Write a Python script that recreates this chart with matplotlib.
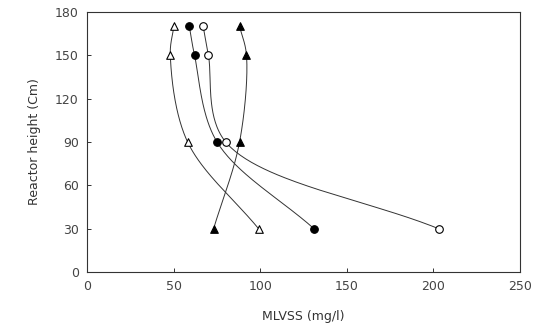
import numpy as np
import matplotlib.pyplot as plt

# reactor heights (cm)
height = [30, 90, 150, 170]

# MLVSS (mg/l) for each series
open_tri = [99, 58, 48, 50]
filled_circ = [131, 75, 62, 59]
open_circ = [203, 80, 70, 67]
filled_tri = [73, 88, 92, 88]

x_ticks = [0, 50, 100, 150, 200, 250]
y_ticks = [0, 30, 60, 90, 120, 150, 180]


def smooth(x, y, n=60):
    # centripetal catmull-rom through the points, only for drawing the curve
    sx, sy = 1.732, 1.444  # roughly pixels per data unit
    p = np.column_stack([np.asarray(x, float) * sx, np.asarray(y, float) * sy])
    p = np.vstack([2 * p[0] - p[1], p, 2 * p[-1] - p[-2]])
    out = []
    for i in range(1, len(p) - 2):
        p0, p1, p2, p3 = p[i - 1], p[i], p[i + 1], p[i + 2]
        t0 = 0.0
        t1 = t0 + np.linalg.norm(p1 - p0) ** 0.5
        t2 = t1 + np.linalg.norm(p2 - p1) ** 0.5
        t3 = t2 + np.linalg.norm(p3 - p2) ** 0.5
        t = np.linspace(t1, t2, n)[:, None]
        a1 = (t1 - t) / (t1 - t0) * p0 + (t - t0) / (t1 - t0) * p1
        a2 = (t2 - t) / (t2 - t1) * p1 + (t - t1) / (t2 - t1) * p2
        a3 = (t3 - t) / (t3 - t2) * p2 + (t - t2) / (t3 - t2) * p3
        b1 = (t2 - t) / (t2 - t0) * a1 + (t - t0) / (t2 - t0) * a2
        b2 = (t3 - t) / (t3 - t1) * a2 + (t - t1) / (t3 - t1) * a3
        out.append((t2 - t) / (t2 - t1) * b1 + (t - t1) / (t2 - t1) * b2)
    c = np.vstack(out)
    return c[:, 0] / sx, c[:, 1] / sy


plt.rcParams['font.family'] = ['DejaVu Sans']
fig = plt.figure(figsize=(5.35, 3.33), dpi=100)
ax = fig.add_axes([0.163, 0.183, 0.809, 0.781])

series = [
    (open_tri, '^', 'white'),
    (filled_circ, 'o', 'black'),
    (open_circ, 'o', 'white'),
    (filled_tri, '^', 'black'),
]
for xs, mk, fc in series:
    cx, cy = smooth(xs, height)
    ax.plot(cx, cy, color='#333333', lw=0.7, zorder=1)
    ax.scatter(xs, height, marker=mk, s=30, facecolor=fc, edgecolor='black',
               linewidths=0.8, zorder=3)

ax.set_xlim(0, 250)
ax.set_ylim(0, 180)
ax.set_xticks(x_ticks)
ax.set_yticks(y_ticks)
ax.tick_params(direction='in', length=3, width=0.7, labelsize=9, colors='#333333',
               labelcolor='#444444', pad=6)
for sp in ax.spines.values():
    sp.set_linewidth(0.8)
    sp.set_color('#333333')
ax.set_xlabel('MLVSS (mg/l)', fontsize=9, color='#333333', labelpad=12)
ax.set_ylabel('Reactor height (Cm)', fontsize=9, color='#333333', labelpad=10)

fig.savefig('out.png', dpi=100)
